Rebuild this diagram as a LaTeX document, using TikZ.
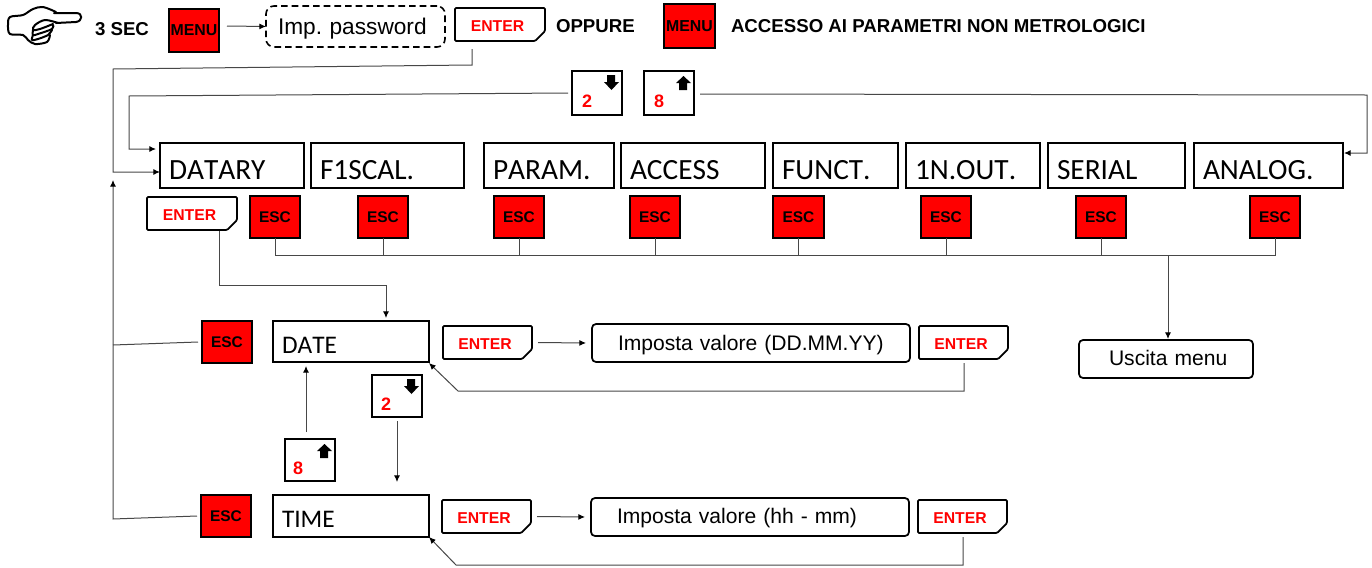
\documentclass[tikz,border=0pt]{standalone}
\usepackage{fontspec}
\setmainfont{Liberation Sans}
\newfontfamily\carl[Kerning=Off]{Carlito}
\usetikzlibrary{arrows.meta,calc,shapes.misc}
\frenchspacing
\newcommand\bx[7]{\node[#1,minimum width={(#5-#3-2)*0.75pt},minimum height={(#6-#4-2)*0.75pt}] (#2) at ({(#3+#5)/2},{(#4+#6)/2}) {#7};}
\newcommand\tbx[9]{\node[#1,minimum width={(#5-#3-2)*0.75pt},minimum height={(#6-#4-2)*0.75pt},text width={(#5-#3-2)*0.75pt},align=left,text height={2*#8*0.75pt},text depth=0pt] (#2) at ({(#3+#5)/2},{(#4+#6)/2}) {\hspace*{#7\dimexpr0.75pt\relax}#9};}
\newcommand\enttxt{ENTER\hspace*{3.75pt}}
\tikzset{
 x=0.75pt,y=-0.75pt,
 base/.style={inner sep=0pt,outer sep=0pt},
 redkey/.style={base,draw=black,fill=red,line width=1.9pt,font=\bfseries\fontsize{11.6}{13}\selectfont},
 menukey/.style={redkey,font=\bfseries\fontsize{11.9}{13}\selectfont},
 enterkey/.style={base,draw=black,line width=1.3pt,chamfered rectangle,chamfered rectangle corners=south east,chamfered rectangle xsep=5pt,chamfered rectangle ysep=2.6pt,rounded corners=0.8pt,text=red,text height=9.75pt,text depth=0pt,font=\bfseries\fontsize{11.8}{13}\selectfont},
 menubox/.style={base,draw=black,line width=1.7pt,font=\carl\fontsize{22}{24}\selectfont},
 smallbox/.style={menubox,font=\carl\fontsize{19}{24}\selectfont},
 digitkey/.style={base,draw=black,line width=1.7pt,text=red,font=\bfseries\fontsize{13.5}{15}\selectfont},
 valbox/.style={base,draw=black,line width=1.3pt,rounded corners=3pt,font=\fontsize{15.8}{18}\selectfont},
 pwbox/.style={base,draw=black,line width=1.2pt,dashed,dash pattern=on 5pt off 3pt,rounded corners=6pt,font=\fontsize{17}{20}\selectfont},
 plain/.style={base,anchor=base west,font=\bfseries\fontsize{14}{15}\selectfont},
 conn/.style={draw=black!72,line width=0.75pt},
 tip/.style={-{Latex[length=5pt,width=4.5pt,black]}},
 hand/.style={draw=black,line width=1.5pt,line join=round,line cap=round},
}
\newcommand\downarr[1]{\fill[black,shift={(#1.north east)}] (-15,4) -- (-7,4) -- (-7,11) -- (-3,11) -- (-10.5,19) -- (-18,11) -- (-15,11) -- cycle;}
\newcommand\uparr[1]{\fill[black,shift={(#1.north east)}] (-7,19) -- (-15,19) -- (-15,12) -- (-18,12) -- (-10.5,5) -- (-3,12) -- (-7,12) -- cycle;}
\begin{document}
\begin{tikzpicture}
\useasboundingbox[fill=white] (0,0) rectangle (1372,568);
% hand
\draw[hand] plot[smooth,tension=0.55] coordinates {(56,12) (43,7) (33,9) (23,15) (10,17) (8,25) (10,34) (23,35) (28,40) (35,44) (47,42) (50,35)};
\draw[hand] (54,13) -- (76,13) .. controls (83,13) and (83,21) .. (76,22) -- (56,23);
\draw[hand] plot[smooth,tension=0.55] coordinates {(58,23) (45,20) (35,25) (33,30) (40,29) (53,24)};
\draw[hand] plot[smooth,tension=0.55] coordinates {(33,30) (33,35) (38,34) (52,29) (53,25)};
\draw[hand] plot[smooth,tension=0.55] coordinates {(33,35) (32,40) (38,39) (48,35) (52,30)};
% top row
\node[plain] (sec) at (95,35) {3 SEC};
\bx{menukey}{menuA}{168}{8}{220}{53}{MENU}
\tbx{pwbox}{pw}{265}{5}{446}{48}{12}{8}{Imp. password}
\bx{enterkey}{enterT}{454}{7}{546}{42}{\enttxt}
\node[plain] (opp) at (556,32) {OPPURE};
\bx{menukey}{menuB}{663}{3}{716}{49}{MENU}
\node[plain] (acc) at (731,32) {ACCESSO AI PARAMETRI NON METROLOGICI};
% arrow keys
\tbx{digitkey}{kTwo}{571}{70}{623}{116}{10}{14.5}{2}
\tbx{digitkey}{kEight}{643}{70}{695}{116}{10}{14.5}{8}
\downarr{kTwo}\uparr{kEight}
% menu row
\tbx{menubox}{mDatary}{159}{142}{305}{189}{9}{13.5}{DATARY}
\tbx{menubox}{mFiscal}{310}{142}{465}{189}{9}{13.5}{F1SCAL.}
\tbx{menubox}{mParam}{483}{142}{615}{189}{9}{13.5}{PARAM.}
\tbx{menubox}{mAccess}{620}{142}{766}{189}{9}{13.5}{ACCESS}
\tbx{menubox}{mFunct}{772}{142}{899}{189}{9}{13.5}{FUNCT.}
\tbx{menubox}{mOut}{905}{142}{1041}{189}{9}{13.5}{1N.OUT.}
\tbx{menubox}{mSerial}{1047}{142}{1186}{189}{9}{13.5}{SERIAL}
\tbx{menubox}{mAnalog}{1193}{142}{1344}{189}{9}{13.5}{ANALOG.}
% esc row
\bx{enterkey}{enterD}{146}{196}{238}{231}{\enttxt}
\bx{redkey}{e1}{249}{195}{301}{239}{ESC}
\bx{redkey}{e2}{357}{195}{409}{239}{ESC}
\bx{redkey}{e3}{493}{195}{545}{239}{ESC}
\bx{redkey}{e4}{629}{195}{681}{239}{ESC}
\bx{redkey}{e5}{772}{195}{825}{239}{ESC}
\bx{redkey}{e6}{920}{195}{972}{239}{ESC}
\bx{redkey}{e7}{1075}{195}{1127}{239}{ESC}
\bx{redkey}{e8}{1249}{195}{1301}{239}{ESC}
% date row
\bx{redkey}{eDate}{201}{320}{253}{364}{ESC}
\tbx{smallbox}{bDate}{272}{320}{430}{363}{9}{12}{DATE}
\bx{enterkey}{enA}{442}{325}{533}{360}{\enttxt}
\tbx{valbox}{valA}{591}{323}{911}{363}{26}{7}{Imposta valore (DD.MM.YY)}
\bx{enterkey}{enB}{918}{325}{1009}{360}{\enttxt}
\tbx{digitkey}{kTwoB}{371}{374}{423}{418}{9}{14}{2}
\downarr{kTwoB}
\tbx{digitkey}{kEightB}{284}{438}{336}{482}{8}{14}{8}
\uparr{kEightB}
\tbx{valbox}{uscita}{1078}{339}{1254}{379}{30}{6}{Uscita menu}
% time row
\bx{redkey}{eTime}{200}{494}{252}{538}{ESC}
\tbx{smallbox}{bTime}{272}{494}{430}{538}{9}{11}{TIME}
\bx{enterkey}{enC}{441}{499}{532}{534}{\enttxt}
\tbx{valbox}{valB}{590}{497}{910}{537}{26}{6}{Imposta valore (hh - mm)}
\bx{enterkey}{enD}{917}{499}{1008}{534}{\enttxt}
% connectors
\draw[conn,tip] (227,26) -- (pw.west);
\draw[conn,tip] ($(enterT.south)+(-28,8)$) |- ($(enterT.south)+(-29,24)$) -- (113,69) |- (mDatary.west |- 0,172);
\draw[conn,tip] (kTwo.west) ++(-4,0) -- (129,96) |- ($(mDatary.north west)+(-4,6)$);
\draw[conn,tip] ($(kEight.east)+(6,1)$) -- (1367,95) |- ($(mAnalog.north east)+(1,10)$);
\draw[conn,tip] (eTime.west) ++(-4,0) -- (113,519) -- (113,180);
\draw[conn] ($(eDate.west)+(-4,0)$) -- (113,345);
\draw[conn,tip] ($(enterD.south)+(27,1)$) |- (386,285) -- ($(bDate.north)+(35,-3)$);
\draw[conn] (e1.south) |- (e8.south |- 0,255) -- (e8.south);
\foreach \k in {e2,e3,e4,e5,e6,e7} \draw[conn] (\k.south) -- (\k.south |- 0,255);
\draw[conn,tip] (1168,255) -- (1168,339);
\draw[conn,tip] ($(enA.east)+(6,0)$) -- ($(valA.west)+(-6,0)$);
\draw[conn,tip] ($(enC.east)+(6,0)$) -- ($(valB.west)+(-6,0)$);
\draw[conn,tip] ($(enB.south)+(0.5,4)$) |- (458,391) -- ($(bDate.south east)+(0,1)$);
\draw[conn,tip] ($(enD.south)+(0.5,4)$) |- (456,565) -- ($(bTime.south east)+(0,0)$);
\draw[conn,tip] ($(kEightB.north)+(-4,-7)$) -- ($(bDate.south)+(-45,4)$);
\draw[conn,tip] ($(kTwoB.south)+(0,4)$) -- ($(kTwoB.south)+(0,65)$);
\end{tikzpicture}
\end{document}
